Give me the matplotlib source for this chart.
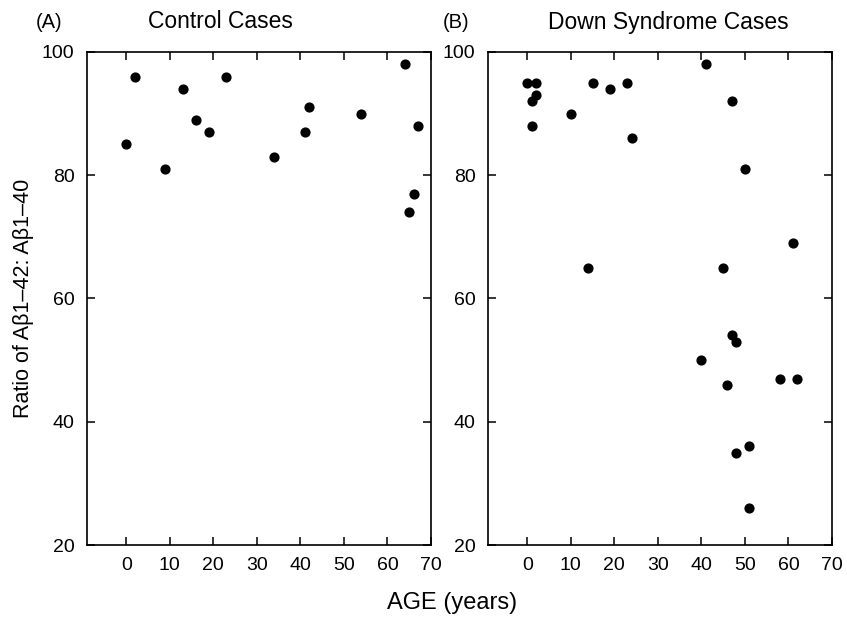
import matplotlib
matplotlib.use("Agg")
import matplotlib.pyplot as plt

plt.rcParams["font.family"] = ["Liberation Sans", "DejaVu Sans"]

# Control cases (panel A)
control_age = [0, 2, 9, 13, 16, 19, 23, 34, 41, 42, 54, 64, 67, 66, 65]
control_ratio = [85, 96, 81, 94, 89, 87, 96, 83, 87, 91, 90, 98, 88, 77, 74]

# Down syndrome cases (panel B)
ds_age = [0, 2, 1, 2, 1, 10, 15, 19, 23, 24, 14, 41, 47, 50, 45, 61,
          40, 47, 48, 46, 58, 62, 48, 51, 51]
ds_ratio = [95, 95, 92, 93, 88, 90, 95, 94, 95, 86, 65, 98, 92, 81, 65, 69,
            50, 54, 53, 46, 47, 47, 35, 36, 26]

xticks = [0, 10, 20, 30, 40, 50, 60, 70]
yticks = [20, 40, 60, 80, 100]

fig = plt.figure(figsize=(8.47, 6.2), dpi=100)
ax1 = fig.add_axes([87 / 847, 1 - 545 / 620, (431 - 87) / 847, (545 - 52) / 620])
ax2 = fig.add_axes([488 / 847, 1 - 545 / 620, (832 - 488) / 847, (545 - 52) / 620])

for ax, ages, ratios in [(ax1, control_age, control_ratio), (ax2, ds_age, ds_ratio)]:
    ax.scatter(ages, ratios, s=40, color="black", zorder=3)
    ax.set_xlim(-9, 70)
    ax.set_ylim(20, 100)
    ax.set_xticks(xticks)
    ax.set_yticks(yticks)
    ax.tick_params(direction="in", top=True, right=True, labeltop=False,
                   labelright=False, length=6, width=1.1, labelsize=14, pad=9)
    for sp in ax.spines.values():
        sp.set_linewidth(1.2)

ax1.set_ylabel("Ratio of A\u03b21\u201342: A\u03b21\u201340", fontsize=15.5, labelpad=6)

fig.text(36 / 847, 1 - 23 / 620, "(A)", fontsize=14.5, va="center", ha="left")
fig.text(220 / 847, 1 - 21 / 620, "Control Cases", fontsize=16.5, va="center", ha="center")
fig.text(443 / 847, 1 - 22 / 620, "(B)", fontsize=14.5, va="center", ha="left")
fig.text(668 / 847, 1 - 22 / 620, "Down Syndrome Cases", fontsize=16.5, va="center", ha="center")
fig.text(452 / 847, 1 - 603 / 620, "AGE (years)", fontsize=17, va="center", ha="center")

plt.savefig("out.png", dpi=100)
